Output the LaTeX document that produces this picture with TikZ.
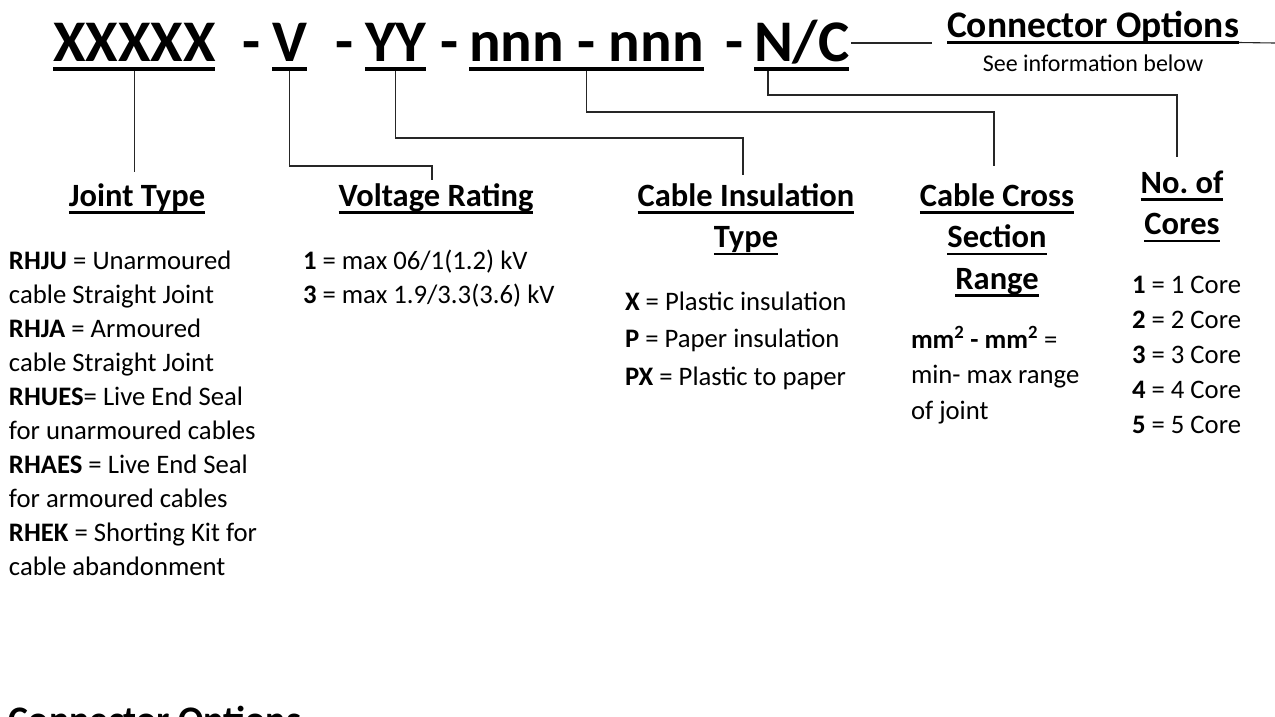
\documentclass[tikz,border=0pt]{standalone}
\usepackage{fontspec}
\setmainfont{Carlito}
\newcommand\myunder[3]{\setbox0\hbox{#3}\rlap{\rule[#1]{\wd0}{#2}}\box0}
\newcommand\hu[1]{\myunder{-7.5pt}{2.5pt}{#1}}
\newcommand\tu[1]{\myunder{-10pt}{4pt}{#1}}
\begin{document}
\begin{tikzpicture}[x=1pt,y=-1pt,
  every node/.style={inner sep=0pt, outer sep=0pt},
  titletext/.style={anchor=base west, font=\fontsize{59}{60}\selectfont\bfseries},
  headtext/.style={anchor=base, font=\fontsize{32.5}{41.5}\selectfont\bfseries, align=center},
  bodytext/.style={anchor=base west, font=\fontsize{26.7}{34}\selectfont, align=left},
  conn/.style={line width=1.1pt, black!85}]
\useasboundingbox (0,0) rectangle (1275,716);

% title
\node[titletext] (xx) at (53,61) {\tu{XXXXX}};
\node[titletext] (d1) at (242,61) {-};
\node[titletext] (v) at (272,61) {\tu{V}};
\node[titletext] (d2) at (335,61) {-};
\node[titletext] (yy) at (365,61) {\tu{YY}};
\node[titletext] (d3) at (440,61) {-};
\node[titletext] (nn) at (469,61) {\tu{nnn - nnn}};
\node[titletext] (d4) at (725,61) {-};
\node[titletext] (nc) at (754,61) {\tu{N/C}};

% connector options
\node[anchor=base west, font=\fontsize{37.5}{40}\selectfont\bfseries] (co) at (947,37) {\myunder{-6.5pt}{2.6pt}{Connector Options}};
\node[anchor=base, font=\fontsize{24}{28}\selectfont] (see) at (1093,71) {See information below};
\coordinate (coA) at (851,43);
\coordinate (coB) at (932,43);
\coordinate (coR) at (1275,43);
\draw[conn] (coA) -- (coB);
\draw[conn] ([yshift=-5.5pt]co.base east) -- (coR);

% headings (base = baseline of the last line)
\node[headtext] (jt) at (137,206) {\hu{Joint Type}};
\node[headtext] (vr) at (436,206) {\hu{Voltage Rating}};
\node[headtext] (ci) at (746,247.5) {\hu{Cable Insulation}\\\hu{Type}};
\node[headtext] (cc) at (997,289) {\hu{Cable Cross}\\\hu{Section}\\\hu{Range}};
\node[headtext] (nc2) at (1182,234.5) {\hu{No.\ of}\\\hu{Cores}};

% connector start / end points
\coordinate (xxS) at ([yshift=-10pt]xx.base);
\coordinate (vS) at ([yshift=-10pt]v.base);
\coordinate (yyS) at ([yshift=-10pt]yy.base);
\coordinate (nnS) at ([yshift=-10pt]nn.base);
\coordinate (ncS) at ([xshift=14pt,yshift=-10pt]nc.base west);
\coordinate (jtE) at (xxS |- 0,172);
\coordinate (vrE) at (432,180);
\coordinate (ciE) at (743,175);
\coordinate (ccE) at (994,166);
\coordinate (ncE) at (1177,157);
\draw[conn] (xxS) -- (jtE);
\draw[conn] (vS) |- (vrE |- 0,166) -- (vrE);
\draw[conn] (yyS) |- (ciE |- 0,138) -- (ciE);
\draw[conn] (nnS) |- (ccE |- 0,112) -- (ccE);
\draw[conn] (ncS) |- (ncE |- 0,95) -- (ncE);

% bodies (base = baseline of the last line)
\node[bodytext] (jtb) at (9,575) {%
\textbf{RHJU} = Unarmoured\\
cable Straight Joint\\
\textbf{RHJA} = Armoured\\
cable Straight Joint\\
\textbf{RHUES}= Live End Seal\\
for unarmoured cables\\
\textbf{RHAES} = Live End Seal\\
for armoured cables\\
\textbf{RHEK} = Shorting Kit for\\
cable abandonment};
\node[bodytext] (vrb) at (303,303) {%
\textbf{1} = max 06/1(1.2) kV\\
\textbf{3} = max 1.9/3.3(3.6) kV};
\node[bodytext, font=\fontsize{26.7}{37.5}\selectfont] (cib) at (625,385) {%
\textbf{X} = Plastic insulation\\
\textbf{P} = Paper insulation\\
\textbf{PX} = Plastic to paper};
\node[bodytext, font=\fontsize{26.7}{35.5}\selectfont] (ccb) at (911,419) {%
\textbf{mm\textsuperscript{2} - mm\textsuperscript{2}} =\\
min- max range\\
of joint};
\node[bodytext, font=\fontsize{26.7}{35}\selectfont] (ncb) at (1132,433) {%
\textbf{1} = 1 Core\\
\textbf{2} = 2 Core\\
\textbf{3} = 3 Core\\
\textbf{4} = 4 Core\\
\textbf{5} = 5 Core};

% bottom heading (cut off by the page edge)
\node[anchor=base west, font=\fontsize{37.5}{40}\selectfont\bfseries] (cob) at (9,732) {Connector Options};
\end{tikzpicture}
\end{document}
